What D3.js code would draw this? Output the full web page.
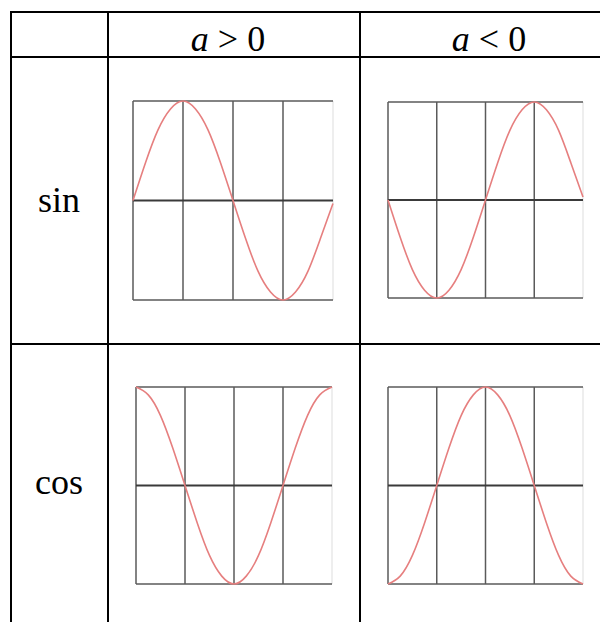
<!DOCTYPE html>
<html>
<head>
<meta charset="utf-8">
<script src="https://cdn.jsdelivr.net/npm/d3@7"></script>
<style>
  body { margin: 0; background: #fff; }
  svg { display: block; }
</style>
</head>
<body>
<script>
// table labels
const rowLabels = ["sin", "cos"];
const colLabels = [["a", " > 0"], ["a", " < 0"]];

// x positions in quarter periods, one grid column each
const xs = [0, 0.25, 0.5, 0.75, 1, 1.25, 1.5, 1.75, 2, 2.25, 2.5, 2.75, 3, 3.25, 3.5, 3.75, 4];

// curve heights
const sinPos = [0, 0.38, 0.71, 0.92, 1, 0.92, 0.71, 0.38, 0, -0.38, -0.71, -0.92, -1, -0.92, -0.71, -0.38, -0.03];
const sinNeg = [0, -0.38, -0.71, -0.92, -1, -0.92, -0.71, -0.38, 0, 0.38, 0.71, 0.92, 1, 0.92, 0.71, 0.38, 0.03];
const cosPos = [1, 0.92, 0.71, 0.38, 0, -0.38, -0.71, -0.92, -1, -0.92, -0.71, -0.38, 0, 0.38, 0.71, 0.92, 1];
const cosNeg = [-1, -0.92, -0.71, -0.38, 0, 0.38, 0.71, 0.92, 1, 0.92, 0.71, 0.38, 0, -0.38, -0.71, -0.92, -1];

const gridX = [0, 1, 2, 3, 4];
const gridY = [-1, 0, 1];

const width = 600, height = 622;

const svg = d3.select("body").append("svg")
  .attr("width", width)
  .attr("height", height);

// table frame
const colEdges = [11, 108, 360];
const rowEdges = [12, 57, 344];

const table = svg.append("g").attr("stroke", "#000").attr("stroke-width", 2);

colEdges.forEach(x => {
  table.append("line")
    .attr("x1", x).attr("x2", x)
    .attr("y1", 11).attr("y2", height);
});
rowEdges.forEach(y => {
  table.append("line")
    .attr("x1", 10).attr("x2", width)
    .attr("y1", y).attr("y2", y);
});

// header text
const headX = [228, 489];
colLabels.forEach((lab, i) => {
  const t = svg.append("text")
    .attr("x", headX[i])
    .attr("y", 51)
    .attr("text-anchor", "middle")
    .attr("font-family", "Liberation Serif, Times New Roman, serif")
    .attr("font-size", 36);
  t.append("tspan").attr("font-style", "italic").text(lab[0]);
  t.append("tspan").text(lab[1]);
});

// row labels
const rowY = [212, 494];
rowLabels.forEach((lab, i) => {
  svg.append("text")
    .attr("x", 59)
    .attr("y", rowY[i])
    .attr("text-anchor", "middle")
    .attr("font-family", "Liberation Serif, Times New Roman, serif")
    .attr("font-size", 36)
    .text(lab);
});

// panels
const panels = [
  { vals: sinPos, x0: 133, x1: 333, y0: 101, y1: 300 },
  { vals: sinNeg, x0: 388, x1: 583, y0: 102, y1: 298 },
  { vals: cosPos, x0: 136, x1: 332, y0: 387, y1: 584 },
  { vals: cosNeg, x0: 388, x1: 583, y0: 387, y1: 584 }
];

panels.forEach(p => {
  const xScale = d3.scaleLinear().domain([0, 4]).range([p.x0, p.x1]);
  const yScale = d3.scaleLinear().domain([-1, 1]).range([p.y1, p.y0]);

  const g = svg.append("g");

  // faint right edge
  g.append("line")
    .attr("x1", xScale(4)).attr("x2", xScale(4))
    .attr("y1", yScale(1)).attr("y2", yScale(-1))
    .attr("stroke", "#ddd")
    .attr("stroke-width", 1);

  g.selectAll(".vline")
    .data(gridX.slice(0, 4))
    .enter()
    .append("line")
    .attr("x1", d => xScale(d)).attr("x2", d => xScale(d))
    .attr("y1", yScale(1)).attr("y2", yScale(-1))
    .attr("stroke", "#5a5a5a")
    .attr("stroke-width", 1.5);

  g.selectAll(".hline")
    .data(gridY)
    .enter()
    .append("line")
    .attr("x1", xScale(0)).attr("x2", xScale(4))
    .attr("y1", d => yScale(d)).attr("y2", d => yScale(d))
    .attr("stroke", d => d === 0 ? "#3a3a3a" : "#5a5a5a")
    .attr("stroke-width", d => d === 0 ? 2.2 : 1.5);

  const line = d3.line()
    .x((d, i) => xScale(xs[i]))
    .y(d => yScale(d))
    .curve(d3.curveNatural);

  g.append("path")
    .attr("d", line(p.vals))
    .attr("fill", "none")
    .attr("stroke", "#e67f7f")
    .attr("stroke-width", 1.6);
});
</script>
</body>
</html>
